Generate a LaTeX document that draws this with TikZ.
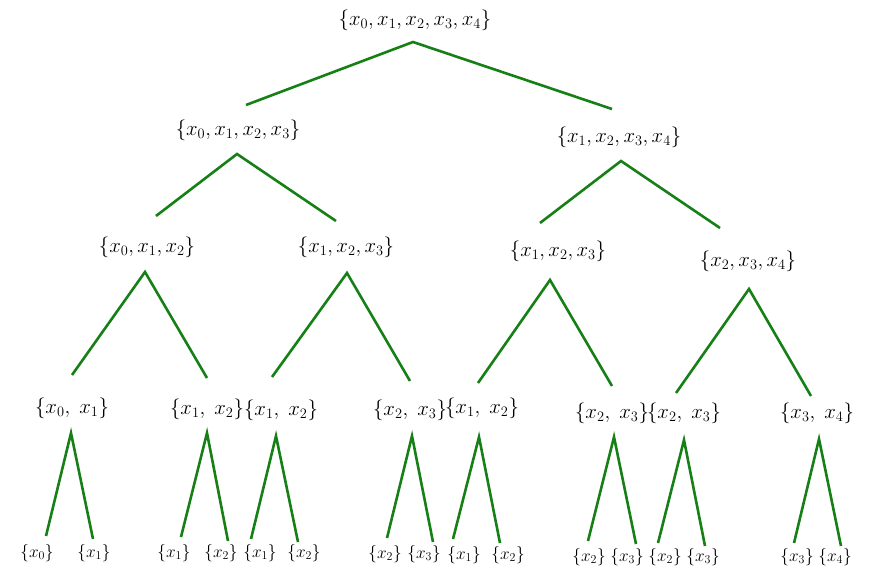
\documentclass[tikz,border=0pt]{standalone}
\begin{document}
\begin{tikzpicture}[x=1pt,y=-1pt,
  lbl/.style={inner sep=0pt,font=\fontsize{20}{24}\selectfont},
  rootlbl/.style={inner sep=0pt,font=\fontsize{21}{25}\selectfont},
  leaf/.style={inner sep=0pt,font=\fontsize{18.5}{22}\selectfont},
  edge/.style={draw={rgb,255:red,22;green,128;blue,22},line width=2.6pt}]
\useasboundingbox (0,0) rectangle (880,577);
% labels
\node[rootlbl] (r) at (415,20) {$\{x_0,x_1,x_2,x_3,x_4\}$};
\node[lbl] (a) at (238,130) {$\{x_0,x_1,x_2,x_3\}$};
\node[lbl] (b) at (619,137) {$\{x_1,x_2,x_3,x_4\}$};
\node[lbl] (aa) at (147,247) {$\{x_0,x_1,x_2\}$};
\node[lbl] (ab) at (346,247) {$\{x_1,x_2,x_3\}$};
\node[lbl] (ba) at (558,251) {$\{x_1,x_2,x_3\}$};
\node[lbl] (bb) at (748,261) {$\{x_2,x_3,x_4\}$};
\node[lbl] (aaa) at (72,408) {$\{x_0,\;x_1\}$};
\node[lbl] (aab) at (207,409) {$\{x_1,\;x_2\}$};
\node[lbl] (aba) at (281,410) {$\{x_1,\;x_2\}$};
\node[lbl] (abb) at (410,410) {$\{x_2,\;x_3\}$};
\node[lbl] (baa) at (482,408) {$\{x_1,\;x_2\}$};
\node[lbl] (bab) at (612,413) {$\{x_2,\;x_3\}$};
\node[lbl] (bba) at (684,413) {$\{x_2,\;x_3\}$};
\node[lbl] (bbb) at (817,413) {$\{x_3,\;x_4\}$};
\foreach \n/\x/\y/\t in {l1/37/553/0, l2/94/553/1, l3/174/553/1, l4/221/553/2,
  l5/260/553/1, l6/304/553/2, l7/385/554/2, l8/424/554/3,
  l9/464/555/1, l10/508/555/2, l11/589/557/2, l12/627/557/3,
  l13/665/557/2, l14/703/557/3, l15/797/557/3, l16/835/557/4}
  \node[leaf] (\n) at (\x,\y) {$\{x_\t\}$};
% connector end points
\coordinate (r0) at (413,42); \coordinate (r1) at (246,105); \coordinate (r2) at (612,109);
\coordinate (a0) at (237,154); \coordinate (a1) at (156,216); \coordinate (a2) at (336,221);
\coordinate (b0) at (621,161); \coordinate (b1) at (540,223); \coordinate (b2) at (720,228);
\coordinate (aa0) at (145,272); \coordinate (aa1) at (72,375); \coordinate (aa2) at (207,378);
\coordinate (ab0) at (347,273); \coordinate (ab1) at (272,377); \coordinate (ab2) at (410,381);
\coordinate (ba0) at (550,280); \coordinate (ba1) at (478,383); \coordinate (ba2) at (612,386);
\coordinate (bb0) at (749,289); \coordinate (bb1) at (676,393); \coordinate (bb2) at (811,396);
\foreach \n/\x/\y/\lx/\ly/\rx/\ry in {aaa/71/433/46/536/93/539, aab/207/433/181/537/228/541,
  aba/276/436/251/539/298/542, abb/412/436/387/538/433/542,
  baa/479/437/453/539/500/543, bab/614/437/588/541/636/544,
  bba/684/440/658/543/705/546, bbb/819/439/794/543/841/546}{
  \coordinate (\n0) at (\x,\y);
  \coordinate (\n1) at (\lx,\ly);
  \coordinate (\n2) at (\rx,\ry);
}
\foreach \n in {r,a,b,aa,ab,ba,bb,aaa,aab,aba,abb,baa,bab,bba,bbb}
  \draw[edge] (\n1) -- (\n0) -- (\n2);
\end{tikzpicture}
\end{document}
